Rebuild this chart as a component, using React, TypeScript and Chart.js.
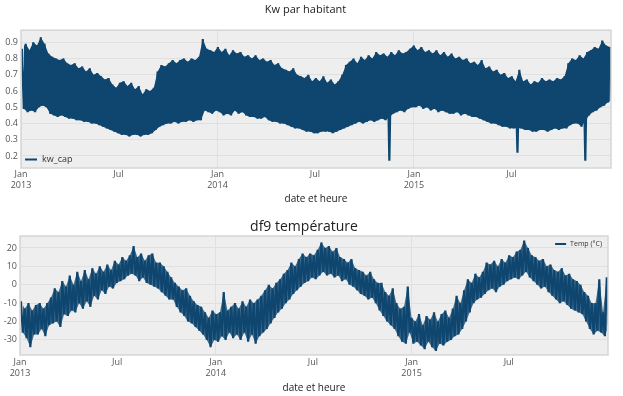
import React, { useEffect, useRef } from 'react';
import { Chart, registerables } from 'chart.js';

Chart.register(...registerables);

// ---------- data ----------
// One high and one low value per week, starting on 2013-01-01.
const DAYS_PER_WEEK = 7;
const TOTAL_DAYS = 1096;

const tickDays = [0, 181, 365, 546, 730, 911];
const tickLabels: (string | string[])[] = [['Jan', '2013'], 'Jul', ['Jan', '2014'], 'Jul', ['Jan', '2015'], 'Jul'];
const majorTickDays = [0, 365, 730];

const kwTicks = [0.2, 0.3, 0.4, 0.5, 0.6, 0.7, 0.8, 0.9];
const tempTicks = [-30, -20, -10, 0, 10, 20];

const kwHigh = [
  // 2013
  0.86, 0.89, 0.85, 0.90, 0.88, 0.93, 0.89, 0.83, 0.81, 0.80,
  0.79, 0.80, 0.77, 0.76, 0.77, 0.74, 0.75, 0.72, 0.74, 0.70,
  0.71, 0.69, 0.67, 0.68, 0.64, 0.62, 0.65, 0.66, 0.63, 0.65,
  0.61, 0.63, 0.58, 0.61, 0.60, 0.62, 0.72, 0.76, 0.75, 0.77,
  0.79, 0.77, 0.79, 0.80, 0.78, 0.80, 0.79, 0.81, 0.92, 0.86,
  0.85, 0.84,
  // 2014
  0.87, 0.84, 0.86, 0.82, 0.85, 0.83, 0.84, 0.81, 0.82, 0.80,
  0.82, 0.79, 0.80, 0.78, 0.79, 0.76, 0.77, 0.74, 0.73, 0.72,
  0.74, 0.70, 0.69, 0.68, 0.70, 0.66, 0.68, 0.66, 0.69, 0.65,
  0.67, 0.64, 0.66, 0.70, 0.76, 0.78, 0.80, 0.77, 0.81, 0.79,
  0.82, 0.80, 0.84, 0.82, 0.83, 0.81, 0.84, 0.82, 0.85, 0.83,
  0.84, 0.86,
  // 2015
  0.88, 0.85, 0.87, 0.84, 0.85, 0.83, 0.85, 0.82, 0.84, 0.81,
  0.83, 0.80, 0.81, 0.79, 0.80, 0.77, 0.78, 0.76, 0.79, 0.74,
  0.75, 0.72, 0.73, 0.70, 0.71, 0.68, 0.69, 0.66, 0.73, 0.66,
  0.67, 0.64, 0.66, 0.65, 0.68, 0.66, 0.67, 0.66, 0.68, 0.67,
  0.69, 0.77, 0.80, 0.79, 0.82, 0.80, 0.84, 0.85, 0.87, 0.86,
  0.91, 0.88, 0.87,
];

const kwLow = [
  // 2013
  0.49, 0.47, 0.48, 0.47, 0.50, 0.51, 0.50, 0.46, 0.45, 0.44,
  0.45, 0.44, 0.43, 0.43, 0.42, 0.42, 0.41, 0.41, 0.40, 0.40,
  0.39, 0.38, 0.37, 0.36, 0.35, 0.34, 0.33, 0.33, 0.32, 0.33,
  0.33, 0.32, 0.33, 0.33, 0.34, 0.36, 0.38, 0.39, 0.40, 0.40,
  0.41, 0.40, 0.41, 0.41, 0.42, 0.41, 0.42, 0.42, 0.48, 0.47,
  0.46, 0.48,
  // 2014
  0.47, 0.45, 0.46, 0.45, 0.48, 0.46, 0.47, 0.45, 0.44, 0.44,
  0.43, 0.43, 0.44, 0.42, 0.41, 0.41, 0.40, 0.40, 0.39, 0.38,
  0.37, 0.37, 0.36, 0.35, 0.35, 0.34, 0.34, 0.35, 0.35, 0.35,
  0.34, 0.35, 0.36, 0.37, 0.38, 0.39, 0.40, 0.41, 0.40, 0.41,
  0.42, 0.41, 0.42, 0.43, 0.42, 0.17, 0.46, 0.47, 0.48, 0.47,
  0.49, 0.50,
  // 2015
  0.50, 0.51, 0.49, 0.50, 0.48, 0.49, 0.47, 0.48, 0.47, 0.46,
  0.46, 0.47, 0.45, 0.46, 0.45, 0.44, 0.44, 0.43, 0.42, 0.41,
  0.40, 0.40, 0.39, 0.38, 0.38, 0.37, 0.37, 0.22, 0.37, 0.36,
  0.36, 0.35, 0.35, 0.36, 0.36, 0.35, 0.36, 0.37, 0.36, 0.37,
  0.37, 0.39, 0.40, 0.40, 0.38, 0.17, 0.45, 0.47, 0.48, 0.50,
  0.51, 0.53, 0.54,
];
// Weekly lows below this are brief outages: drawn by the line only, not by the band fill.
const KW_OUTAGE_BELOW = 0.3;

const tempHigh = [
  // 2013
  -9, -13, -10, -14, -11, -10, -13, -10, -7, -2,
  -4, 2, -1, 5, 0, 7, 2, 8, 3, 9,
  6, 10, 7, 11, 8, 13, 11, 15, 13, 16,
  21, 15, 17, 13, 16, 17, 12, 12, 10, 7,
  4, 1, -1, -3, -2, -6, -9, -11, -12, -15,
  -18, -14,
  // 2014
  -16, -15, -4, -14, -12, -10, -13, -9, -12, -8,
  -10, -8, -6, -3, 0, -2, 1, 3, 6, 8,
  12, 10, 14, 17, 15, 17, 16, 19, 23, 20,
  21, 18, 20, 15, 14, 12, 14, 9, 8, 7,
  5, 7, 3, 1, 1, -4, -6, -2, -10, -13,
  -12, -1,
  // 2015
  -18, -20, -16, -22, -17, -19, -15, -20, -16, -14,
  -18, -13, -6, -10, -3, 3, 1, 6, 4, 7,
  12, 11, 13, 10, 14, 12, 16, 15, 18, 19,
  24, 20, 16, 15, 13, 14, 10, 11, 8, 7,
  9, 5, 6, 3, 2, 0, -4, -6, -10, -10,
  3, -15, 4,
];

const tempLow = [
  // 2013
  -26, -29, -34, -27, -27, -24, -28, -22, -21, -20,
  -23, -16, -17, -14, -15, -10, -13, -9, -12, -6,
  -8, -3, -5, -1, -2, 1, 2, 3, 5, 6,
  5, 2, 4, 1, 0, -1, -2, -4, -6, -8,
  -8, -12, -15, -17, -20, -21, -23, -25, -27, -30,
  -34, -30,
  // 2014
  -31, -28, -30, -26, -29, -27, -30, -26, -31, -27,
  -32, -28, -26, -24, -21, -18, -15, -13, -10, -8,
  -5, -3, -1, 1, 2, 4, 3, 5, 7, 5,
  6, 4, 5, 2, 3, 0, -1, -3, -5, -6,
  -8, -7, -10, -14, -17, -20, -22, -24, -28, -31,
  -32, -26,
  // 2015
  -32, -31, -33, -35, -31, -34, -36, -32, -33, -31,
  -30, -28, -27, -24, -20, -15, -10, -8, -7, -5,
  -3, -2, -4, -1, 0, 2, 3, 4, 3, 5,
  7, 4, 2, 0, -2, -1, -4, -6, -8, -10,
  -9, -11, -13, -14, -15, -16, -20, -24, -27, -25,
  -26, -28, -22,
];

// ---------- styling ----------
const FONT = "'Open Sans', 'Noto Sans', sans-serif";
const LINE = '#0f466f';
const TEMP_BAND = 'rgba(15, 70, 111, 0.78)';
const PLOT_BG = '#eeeeee';
const GRID = '#e0e0e0';
const FRAME = '#d6d6d6';
const TICK_COLOR = '#555555';
const TEXT_COLOR = '#222222';

const HIGH_OFFSET = 1.75;
const LOW_OFFSET = 5.25;

function makeZigzag(high: number[], low: number[]) {
  const pts: { x: number; y: number }[] = [];
  for (let i = 0; i < high.length; i++) {
    pts.push({ x: i * DAYS_PER_WEEK + HIGH_OFFSET, y: high[i] });
    pts.push({ x: i * DAYS_PER_WEEK + LOW_OFFSET, y: low[i] });
  }
  return pts;
}

function envelope(values: number[], offset: number, skipBelow?: number) {
  return values.map((v, i) => ({
    x: i * DAYS_PER_WEEK + offset,
    y: skipBelow !== undefined && v < skipBelow ? null : v,
  }));
}

function bandDatasets(name: string, high: number[], low: number[], color: string, skipBelow?: number) {
  return [
    {
      label: name + ' band top',
      data: envelope(high, HIGH_OFFSET),
      borderWidth: 0,
      pointRadius: 0,
      fill: false,
      tension: 0,
    },
    {
      label: name + ' band bottom',
      data: envelope(low, LOW_OFFSET, skipBelow),
      borderWidth: 0,
      pointRadius: 0,
      spanGaps: true,
      fill: '-1',
      backgroundColor: color,
      tension: 0,
    },
  ];
}

const plotFrame = {
  id: 'plotFrame',
  beforeDraw(chart: any) {
    const { ctx, chartArea: a } = chart;
    ctx.save();
    ctx.fillStyle = PLOT_BG;
    ctx.fillRect(a.left, a.top, a.right - a.left, a.bottom - a.top);
    ctx.restore();
  },
  afterDraw(chart: any) {
    const { ctx, chartArea: a } = chart;
    ctx.save();
    ctx.strokeStyle = FRAME;
    ctx.lineWidth = 1.5;
    ctx.strokeRect(a.left, a.top, a.right - a.left, a.bottom - a.top);
    ctx.restore();
  },
};

const innerLegend = {
  id: 'innerLegend',
  afterDraw(chart: any, _args: any, opts: any) {
    if (!opts || !opts.display) return;
    const { ctx, chartArea: a } = chart;
    const ds = chart.data.datasets[0];
    ctx.save();
    ctx.font = `${opts.size}px ${FONT}`;
    const tw = ctx.measureText(ds.label).width;
    const total = opts.lineLen + opts.gap + tw;
    const x0 = opts.corner === 'bottom-left' ? a.left + opts.dx : a.right - opts.dx - total;
    const y = opts.corner === 'bottom-left' ? a.bottom - opts.dy : a.top + opts.dy;
    ctx.strokeStyle = LINE;
    ctx.lineWidth = opts.lw;
    ctx.beginPath();
    ctx.moveTo(x0, y);
    ctx.lineTo(x0 + opts.lineLen, y);
    ctx.stroke();
    ctx.fillStyle = '#333333';
    ctx.textBaseline = 'middle';
    ctx.textAlign = 'left';
    ctx.fillText(ds.label, x0 + opts.lineLen + opts.gap, y);
    ctx.restore();
  },
};

function xScale(axisHeight: number, tickPad: number, titlePadBottom: number) {
  return {
    type: 'linear',
    min: 0,
    max: TOTAL_DAYS,
    afterBuildTicks: (s: any) => {
      s.ticks = tickDays.map((v) => ({ value: v }));
    },
    afterFit: (s: any) => {
      s.height = axisHeight;
    },
    ticks: {
      autoSkip: false,
      maxRotation: 0,
      minRotation: 0,
      padding: tickPad,
      color: TICK_COLOR,
      font: { family: FONT, size: 9 },
      callback: (_v: any, i: number) => tickLabels[i],
    },
    grid: {
      drawTicks: false,
      color: (c: any) => (c.tick && majorTickDays.includes(c.tick.value) ? GRID : 'rgba(0,0,0,0)'),
    },
    border: { display: false },
    title: {
      display: true,
      text: 'date et heure',
      color: TEXT_COLOR,
      font: { family: FONT, size: 10 },
      padding: { top: 0, bottom: titlePadBottom },
    },
  };
}

function yScale(min: number, max: number, ticks: number[], width: number, fmt: (v: number) => string) {
  return {
    min,
    max,
    afterBuildTicks: (s: any) => {
      s.ticks = ticks.map((v) => ({ value: v }));
    },
    afterFit: (s: any) => {
      s.width = width;
    },
    ticks: {
      padding: 3,
      color: TICK_COLOR,
      font: { family: FONT, size: 9 },
      callback: (v: any) => fmt(Number(v)),
    },
    grid: { drawTicks: false, color: GRID },
    border: { display: false },
  };
}

function kwConfig(): any {
  return {
    type: 'line',
    data: {
      datasets: [
        {
          label: 'kw_cap',
          data: makeZigzag(kwHigh, kwLow),
          borderColor: LINE,
          borderWidth: 2.2,
          borderJoinStyle: 'bevel',
          pointRadius: 0,
          fill: false,
          tension: 0,
        },
        ...bandDatasets('kw_cap', kwHigh, kwLow, LINE, KW_OUTAGE_BELOW),
      ],
    },
    options: {
      animation: false,
      responsive: false,
      devicePixelRatio: 1,
      layout: { padding: { left: 0, right: 12, top: 0, bottom: 0 } },
      plugins: {
        legend: { display: false },
        tooltip: { enabled: false },
        filler: { propagate: false },
        title: {
          display: true,
          text: 'Kw par habitant',
          color: TEXT_COLOR,
          font: { family: FONT, size: 11, weight: 'normal' },
          padding: { top: 3, bottom: 14 },
        },
        innerLegend: { display: true, corner: 'bottom-left', dx: 4, dy: 8.5, lineLen: 12, gap: 5, size: 9, lw: 2 },
      },
      scales: {
        x: xScale(37, 1, 0),
        y: yScale(0.126, 0.974, kwTicks, 21, (v) => v.toFixed(1)),
      },
    },
    plugins: [plotFrame, innerLegend],
  };
}

function tempConfig(): any {
  return {
    type: 'line',
    data: {
      datasets: [
        {
          label: 'Temp (°C)',
          data: makeZigzag(tempHigh, tempLow),
          borderColor: LINE,
          borderWidth: 2.2,
          borderJoinStyle: 'bevel',
          pointRadius: 0,
          fill: false,
          tension: 0,
        },
        ...bandDatasets('Temp (°C)', tempHigh, tempLow, TEMP_BAND),
      ],
    },
    options: {
      animation: false,
      responsive: false,
      devicePixelRatio: 1,
      layout: { padding: { left: 0, right: 15, top: 0, bottom: 0 } },
      plugins: {
        legend: { display: false },
        tooltip: { enabled: false },
        filler: { propagate: false },
        title: {
          display: true,
          text: 'df9 température',
          color: TEXT_COLOR,
          font: { family: FONT, size: 14, weight: 'normal' },
          padding: { top: 13.6, bottom: 0.6 },
        },
        innerLegend: { display: true, corner: 'top-right', dx: 6, dy: 8, lineLen: 11, gap: 4, size: 7, lw: 2 },
      },
      scales: {
        x: xScale(41, 2, 2),
        y: yScale(-38.2, 26.5, tempTicks, 20, (v) => String(v)),
      },
    },
    plugins: [plotFrame, innerLegend],
  };
}

export default function App() {
  const ref1 = useRef<HTMLCanvasElement>(null);
  const ref2 = useRef<HTMLCanvasElement>(null);

  useEffect(() => {
    const c1 = new Chart(ref1.current as HTMLCanvasElement, kwConfig());
    const c2 = new Chart(ref2.current as HTMLCanvasElement, tempConfig());
    return () => {
      c1.destroy();
      c2.destroy();
    };
  }, []);

  return (
    <div style={{ position: 'absolute', left: 0, top: 0, width: 623, height: 396, background: '#ffffff' }}>
      <canvas
        ref={ref1}
        width={623}
        height={205}
        style={{ position: 'absolute', left: 0, top: 0, width: 623, height: 205 }}
      />
      <canvas
        ref={ref2}
        width={623}
        height={191}
        style={{ position: 'absolute', left: 0, top: 205, width: 623, height: 191 }}
      />
    </div>
  );
}
